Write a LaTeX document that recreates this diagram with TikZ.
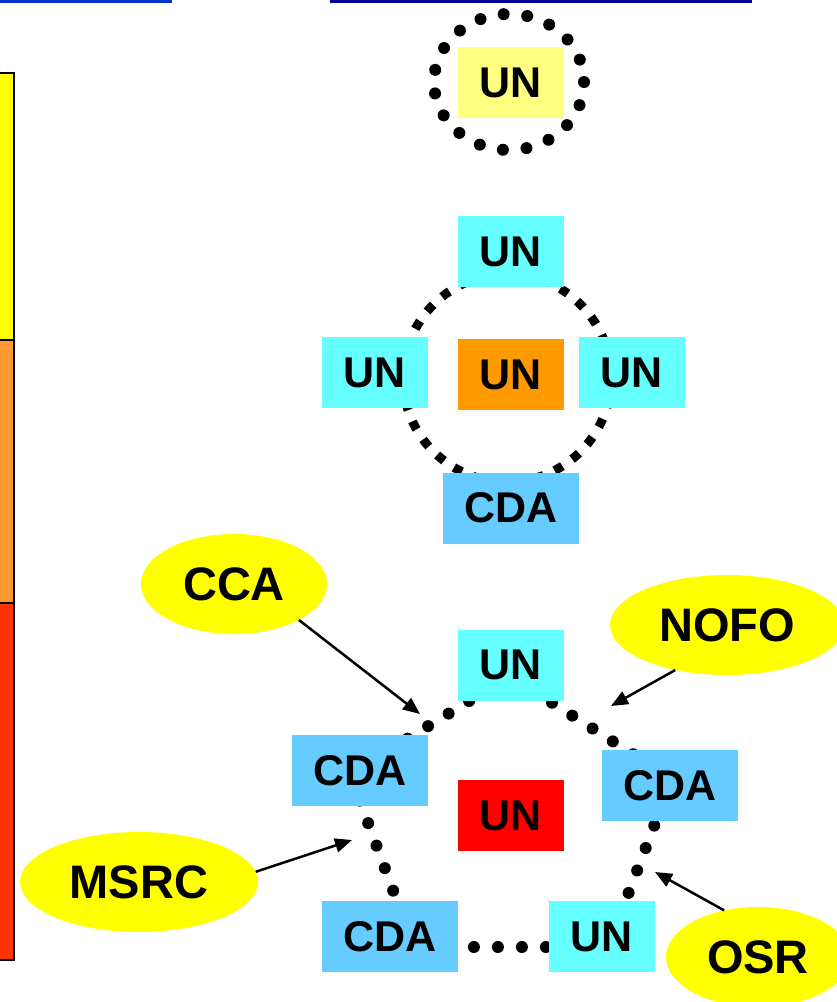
\documentclass[tikz,border=0pt]{standalone}
\usepackage{fontspec}
\setmainfont{Liberation Sans}
\usetikzlibrary{arrows.meta,shapes.geometric}
\definecolor{lineblue}{HTML}{0033CC}
\definecolor{linenavy}{HTML}{000099}
\definecolor{barYellow}{HTML}{FFFF00}
\definecolor{barOrange}{HTML}{FF9933}
\definecolor{barRed}{HTML}{FF3300}
\definecolor{unPale}{HTML}{FFFF80}
\definecolor{unCyan}{HTML}{66FFFF}
\definecolor{unOrange}{HTML}{FF9900}
\definecolor{unRed}{HTML}{FF0000}
\definecolor{cdaBlue}{HTML}{66CCFF}
\definecolor{calloutYellow}{HTML}{FFFF00}
\begin{document}
\begin{tikzpicture}[x=1pt, y=-1pt,
  box/.style={minimum width=106pt, minimum height=71pt, inner sep=0pt, font=\bfseries\fontsize{43}{43}\selectfont},
  cdabox/.style={box, fill=cdaBlue, minimum width=136pt},
  callout/.style={ellipse, fill=calloutYellow, inner sep=0pt, minimum height=100pt, font=\bfseries\fontsize{47}{47}\selectfont},
  dotring/.style={line width=12pt, line cap=round, dash pattern=on 0pt off 23.7pt},
  pointer/.style={line width=2.5pt, -{Triangle[length=17pt, width=14pt]}}]
  \clip (0,0) rectangle (837,1002);
  \draw[line width=3pt, lineblue] (0,1) -- (172,1);
  \draw[line width=3pt, linenavy] (330,1) -- (752,1);
  \filldraw[fill=barYellow, line width=1.5pt] (-2,73) rectangle (14,340);
  \filldraw[fill=barOrange, line width=1.5pt] (-2,340) rectangle (14,603);
  \filldraw[fill=barRed, line width=1.5pt] (-2,603) rectangle (14,960);

  \draw[dotring] (509,82) ellipse [x radius=75, y radius=68];
  \node[box, fill=unPale] (un0) at (511,82.5) {UN};

  \draw[line width=9pt, dash pattern=on 9pt off 12pt] (507,378) circle [radius=104];
  \node[box, fill=unCyan] (unN) at (511,251.5) {UN};
  \node[box, fill=unCyan] (unW) at (375,372.5) {UN};
  \node[box, fill=unOrange] (unC) at (511,374.5) {UN};
  \node[box, fill=unCyan] (unE) at (632,372.5) {UN};
  \node[cdabox] (cdaS) at (511,508) {CDA};

  \coordinate (rTop) at (510,676);
  \coordinate (rLeft) at (350,774);
  \coordinate (rBotL) at (414,947);
  \coordinate (rBotR) at (608,947);
  \coordinate (rRight) at (672,779);
  \draw[dotring, dash pattern=on 0pt off 24pt] (rTop) -- (rLeft) -- (rBotL) -- (rBotR) -- (rRight) -- cycle;
  \node[box, fill=unCyan] (unTop) at (511,665) {UN};
  \node[cdabox] (cdaL) at (360,770.5) {CDA};
  \node[box, fill=unRed] (unMid) at (511,815.5) {UN};
  \node[cdabox] (cdaR) at (670,785.5) {CDA};
  \node[cdabox] (cdaB) at (390,936.5) {CDA};
  \node[box, fill=unCyan] (unB) at (602,936.5) {UN};

  \node[callout, minimum width=186pt] (cca) at (234,584) {CCA};
  \node[callout, minimum width=234pt] (nofo) at (727,625) {NOFO};
  \node[callout, minimum width=238pt] (msrc) at (139,882) {MSRC};
  \node[callout, minimum width=184pt] (osr) at (758,957) {OSR};
  \coordinate (ccaTip) at (420,714);
  \coordinate (nofoTip) at (611,706);
  \coordinate (msrcTip) at (352,840);
  \coordinate (osrTip) at (655,872);
  \draw[pointer] (cca.331) -- (ccaTip);
  \draw[pointer] (nofo.221) -- (nofoTip);
  \draw[pointer] (msrc.5) -- (msrcTip);
  \draw[pointer] (osr.126) -- (osrTip);
\end{tikzpicture}
\end{document}
